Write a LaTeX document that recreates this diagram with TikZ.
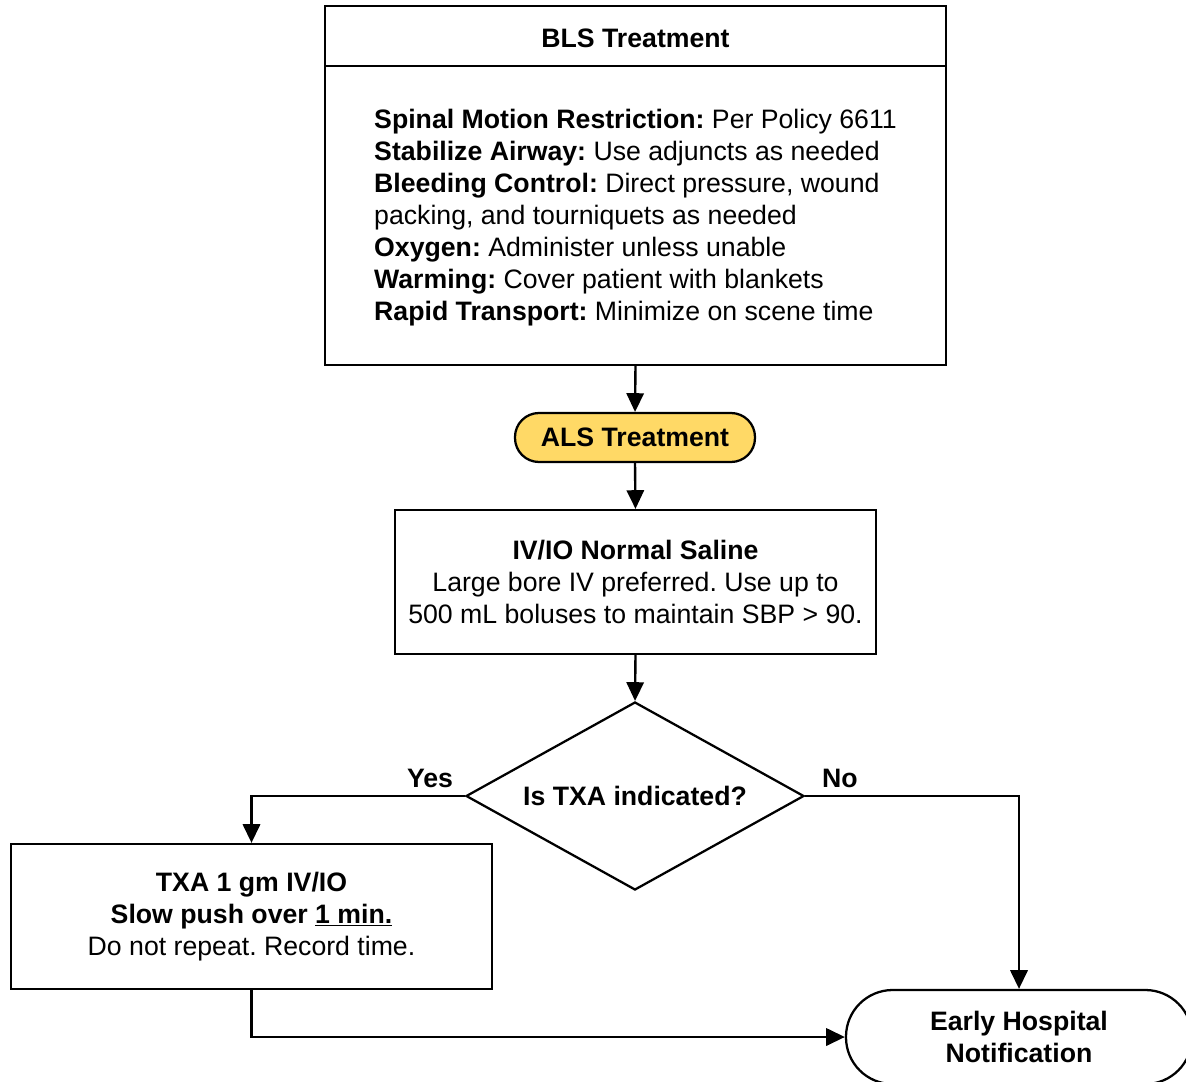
\documentclass[tikz,border=0pt]{standalone}
\usepackage{fontspec}
\setmainfont{Liberation Sans}
\usepackage{tikz}
\usetikzlibrary{arrows.meta}
\usetikzlibrary{shapes.geometric}
\definecolor{alsyellow}{RGB}{255,217,102}
\frenchspacing

\begin{document}
\begin{tikzpicture}[x = 0.75pt, y = -0.75pt,
        every node/.style = {font = \fontsize{20}{24}\selectfont, inner sep = 0pt},
        box/.style = {draw, line width = 1.7pt, rectangle},
        arr/.style = {-{Triangle[length = 14pt, width = 13pt]}, line width = 1.8pt}]
            \useasboundingbox (0, 0) rectangle (1186, 1082);
            \clip (0, 0) rectangle (1186, 1082);
            \node (blshead) [box, minimum width = 621*0.75pt, minimum height = 60*0.75pt, text height = 17.3pt, text depth = 0pt] at (635.5, 36) {\textbf{BLS Treatment}};
            \node (bls) [box, minimum width = 621*0.75pt, minimum height = 299*0.75pt, align = left] at (635.5, 215.5) {\rule{0pt}{17.6pt}\textbf{Spinal Motion Restriction:} Per Policy 6611\\
                \textbf{Stabilize Airway:} Use adjuncts as needed\\
                \textbf{Bleeding Control:} Direct pressure, wound\\
                packing, and tourniquets as needed\\
                \textbf{Oxygen:} Administer unless unable\\
                \textbf{Warming:} Cover patient with blankets\\
                \textbf{Rapid Transport:} Minimize on scene time};
            \node (als) [draw, line width = 1.7pt, fill = alsyellow, rounded corners = 18pt, minimum width = 240*0.75pt, minimum height = 49*0.75pt] at (635, 437.5) {\textbf{ALS Treatment}};
            \node (iv) [box, minimum width = 481*0.75pt, minimum height = 144*0.75pt, align = center] at (635.5, 582) {\textbf{IV/IO Normal Saline}\\
                Large bore IV preferred. Use up to\\
                500 mL boluses to maintain SBP > 90.};
            \node (txaq) [draw, line width = 1.7pt, diamond, aspect = 1.8, minimum width = 338*0.75pt, minimum height = 188*0.75pt] at (635, 796) {\textbf{Is TXA indicated?}};
            \node (txa) [box, minimum width = 481*0.75pt, minimum height = 145*0.75pt, align = center] at (251.5, 916.5) {\textbf{TXA 1 gm IV/IO}\\
                \textbf{Slow push over \underline{1 min.}}\\
                Do not repeat. Record time.};
            \node (ehn) [draw, line width = 1.7pt, rounded corners = 35pt, minimum width = 346*0.75pt, minimum height = 94*0.75pt, align = center] at (1019, 1037) {\textbf{Early Hospital}\\
                \textbf{Notification}};
            \node (yes) at (430, 778) {\textbf{Yes}};
            \node (no) at (840, 778) {\textbf{No}};
            \draw [arr] (bls.south) -- (als.north);
            \draw [arr] (als.south) -- (iv.north);
            \draw [arr] (iv.south) -- (txaq.north);
            \draw [arr] (txaq.west) -| (txa.north);
            \draw [arr] (txaq.east) -| (ehn.north);
            \draw [arr] (txa.south) |- (ehn.west);
        \end{tikzpicture}
\end{document}
